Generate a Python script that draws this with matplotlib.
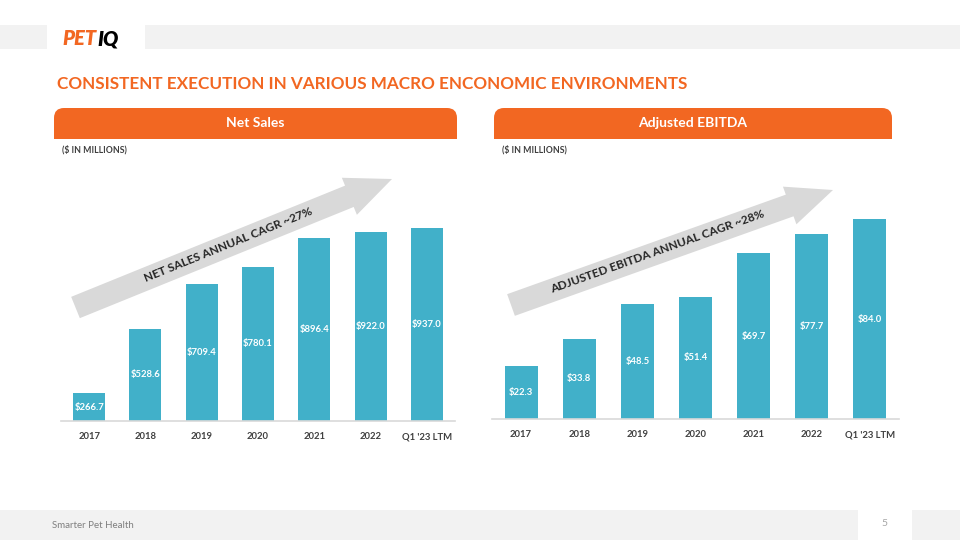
import matplotlib.pyplot as plt
from matplotlib.patches import FancyArrow, FancyBboxPatch, Rectangle

years = ["2017", "2018", "2019", "2020", "2021", "2022", "Q1 '23 LTM"]
net_sales = [266.7, 528.6, 709.4, 780.1, 896.4, 922.0, 937.0]
adj_ebitda = [22.3, 33.8, 48.5, 51.4, 69.7, 77.7, 84.0]

ORANGE = "#f26722"
TEAL = "#41b0c9"
BAND = "#f2f2f2"
ARROW = "#d9d9d9"
DARK = "#404040"

plt.rcParams["font.family"] = ["Lato", "DejaVu Sans"]

W, H = 960, 540
fig = plt.figure(figsize=(9.6, 5.4), dpi=100)
bg = fig.add_axes([0, 0, 1, 1])
bg.set_xlim(0, W)
bg.set_ylim(H, 0)
bg.axis("off")


def px_axes(x0, y0, x1, y1):
    # axes placed in pixel coords (top-left origin)
    return fig.add_axes([x0 / W, 1 - y1 / H, (x1 - x0) / W, (y1 - y0) / H])


# top band + logo
bg.add_patch(Rectangle((0, 25), 47, 24, color=BAND, lw=0))
bg.add_patch(Rectangle((145, 25), W - 145, 24, color=BAND, lw=0))
bg.text(62, 38.5, "PET", color=ORANGE, fontsize=14.5, fontweight="heavy", style="italic", va="center")
bg.text(97, 38.5, "IQ", color="black", fontsize=14.5, fontweight="heavy", style="italic", va="center")

bg.text(57, 84, "CONSISTENT EXECUTION IN VARIOUS MACRO ENCONOMIC ENVIRONMENTS",
        color=ORANGE, fontsize=12.3, fontweight="bold", va="center")


def header(x0, x1, label):
    bg.add_patch(FancyBboxPatch((x0, 108), x1 - x0, 31, boxstyle="round,pad=0,rounding_size=10",
                                color=ORANGE, lw=0))
    bg.add_patch(Rectangle((x0, 124), x1 - x0, 15, color=ORANGE, lw=0))
    bg.text((x0 + x1) / 2, 123, label, color="white", fontsize=10, fontweight="bold",
            ha="center", va="center")
    bg.text(x0 + 8, 150, "($ IN MILLIONS)", color=DARK, fontsize=6.3, fontweight="bold", va="center")


header(54, 457, "Net Sales")
header(494, 892, "Adjusted EBITDA")


def cagr_arrow(tail, tip, text, text_xy, angle):
    bg.add_patch(FancyArrow(tail[0], tail[1], tip[0] - tail[0], tip[1] - tail[1], width=23,
                            head_width=40, head_length=46, length_includes_head=True,
                            color=ARROW, lw=0))
    bg.text(text_xy[0], text_xy[1], text, rotation=angle, rotation_mode="anchor",
            ha="center", va="center", fontsize=8.5, fontweight="bold", color="#262626")


cagr_arrow((75.5, 307.5), (392, 179), "NET SALES ANNUAL CAGR ~27%", (228, 245), 22.1)
cagr_arrow((511, 305), (833, 190), "ADJUSTED EBITDA ANNUAL CAGR ~28%", (657, 252), 19.7)


def bar_panel(ax, values, ylo, yhi):
    x = range(len(values))
    ax.bar(x, values, width=0.57, color=TEAL, zorder=2)
    ax.set_xlim(-0.5, len(values) - 0.5)
    ax.set_ylim(ylo, yhi)
    ax.set_facecolor("none")
    for s in ("top", "right", "left"):
        ax.spines[s].set_visible(False)
    ax.spines["bottom"].set_color(ARROW)
    ax.spines["bottom"].set_linewidth(1.2)
    ax.set_yticks([])
    ax.set_xticks(list(x))
    ax.set_xticklabels(years, fontsize=6.8, fontweight="bold", color=DARK)
    ax.tick_params(axis="x", length=0, pad=8)
    for i, v in enumerate(values):
        ax.text(i, (ylo + v) / 2, f"${v:.1f}", color="white", fontsize=6.8, fontweight="bold",
                ha="center", va="center", zorder=3)


ax1 = px_axes(61, 200, 455, 421)
bar_panel(ax1, net_sales, 153, 153 + 221 / 0.246)

ax2 = px_axes(492, 200, 899, 419)
bar_panel(ax2, adj_ebitda, 0, 219 / 2.38)

# footer
bg.add_patch(Rectangle((0, 510), 858, 30, color=BAND, lw=0))
bg.add_patch(Rectangle((912, 510), 48, 30, color=BAND, lw=0))
bg.text(52, 525, "Smarter Pet Health", color="#7f7f7f", fontsize=7, va="center")
bg.text(884, 524, "5", color="#a6a6a6", fontsize=7.5, ha="center", va="center")

fig.savefig("out.png", dpi=100, facecolor="white")
